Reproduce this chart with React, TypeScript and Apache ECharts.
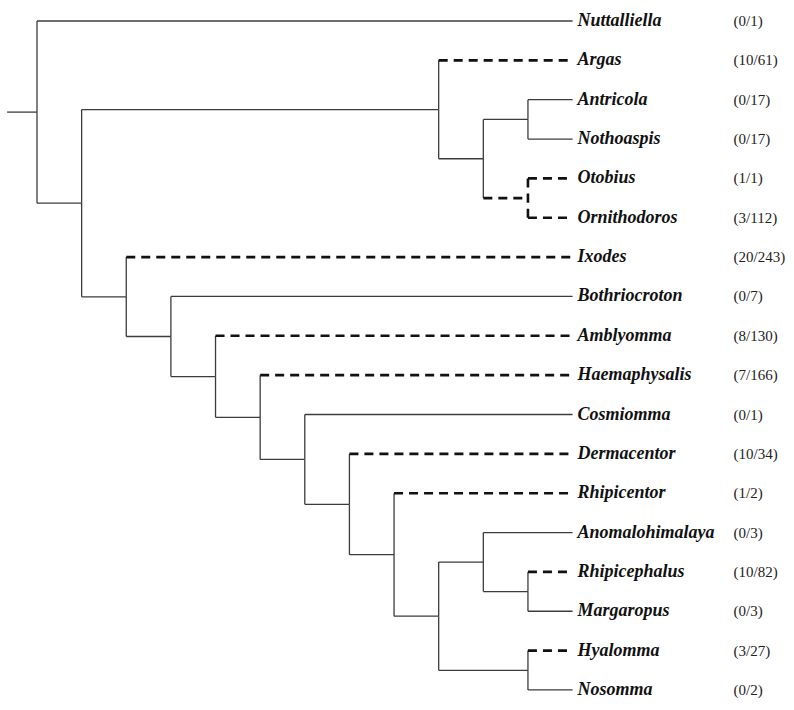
import React, { useEffect, useRef } from "react";
import * as echarts from "echarts";

// Leaves (top to bottom) and their counts (positive / total)
const LEAVES = [
  "Nuttalliella", "Argas", "Antricola", "Nothoaspis", "Otobius", "Ornithodoros",
  "Ixodes", "Bothriocroton", "Amblyomma", "Haemaphysalis", "Cosmiomma", "Dermacentor",
  "Rhipicentor", "Anomalohimalaya", "Rhipicephalus", "Margaropus", "Hyalomma", "Nosomma",
];
const POSITIVE = [0, 10, 0, 0, 1, 3, 20, 0, 8, 7, 0, 10, 1, 0, 10, 0, 3, 0];
const TOTAL = [1, 61, 17, 17, 1, 112, 243, 7, 130, 166, 1, 34, 2, 3, 82, 3, 27, 2];

// Tree topology: [node id, depth, children]
const LEAF_DEPTH = 12;
const ROOT_STUB = -0.67;
const NODES: [string, number, string[]][] = [
  ["root", 0, ["Nuttalliella", "n1"]],
  ["n1", 1, ["argasidae", "ixodidae"]],
  ["argasidae", 9, ["Argas", "a2"]],
  ["a2", 10, ["a3", "a4"]],
  ["a3", 11, ["Antricola", "Nothoaspis"]],
  ["a4", 11, ["Otobius", "Ornithodoros"]],
  ["ixodidae", 2, ["Ixodes", "i3"]],
  ["i3", 3, ["Bothriocroton", "i4"]],
  ["i4", 4, ["Amblyomma", "i5"]],
  ["i5", 5, ["Haemaphysalis", "i6"]],
  ["i6", 6, ["Cosmiomma", "i7"]],
  ["i7", 7, ["Dermacentor", "i8"]],
  ["i8", 8, ["Rhipicentor", "i9"]],
  ["i9", 9, ["i10", "i12"]],
  ["i10", 10, ["Anomalohimalaya", "i11"]],
  ["i11", 11, ["Rhipicephalus", "Margaropus"]],
  ["i12", 11, ["Hyalomma", "Nosomma"]],
];
// Branches (by child id) drawn dashed
const DASHED = [
  "Argas", "a4", "Otobius", "Ornithodoros", "Ixodes", "Amblyomma",
  "Haemaphysalis", "Dermacentor", "Rhipicentor", "Rhipicephalus", "Hyalomma",
];

// Layout constants (pixels)
const NAME_GAP = 5;
const COUNT_GAP = 161;

function buildEdges() {
  const nodeMap: Record<string, { depth: number; children: string[] }> = {};
  NODES.forEach(([id, depth, children]) => (nodeMap[id] = { depth, children }));
  const yOf: Record<string, number> = {};
  const depthOf = (id: string) => (nodeMap[id] ? nodeMap[id].depth : LEAF_DEPTH);
  const getY = (id: string): number => {
    if (yOf[id] !== undefined) return yOf[id];
    let y: number;
    if (nodeMap[id]) {
      const ys = nodeMap[id].children.map(getY);
      y = ys.reduce((a, b) => a + b, 0) / ys.length;
    } else {
      y = LEAVES.indexOf(id);
    }
    yOf[id] = y;
    return y;
  };
  const parentOf: Record<string, string> = {};
  NODES.forEach(([id, , ch]) => ch.forEach((c) => (parentOf[c] = id)));
  const edges: number[][] = [];
  const rootY = getY("root");
  edges.push([ROOT_STUB, rootY, 0, rootY, 0, 0]);
  NODES.forEach(([id, depth, children]) => {
    const py = getY(id);
    const parentDashed = DASHED.includes(id) ? 1 : 0;
    children.forEach((c) => {
      edges.push([depth, py, depthOf(c), getY(c), DASHED.includes(c) ? 1 : 0, parentDashed]);
    });
  });
  return edges;
}

const SOLID_STYLE = { stroke: "#3c3c3c", lineWidth: 1.3 };
const DASH_STYLE = { stroke: "#111", lineWidth: 2.6, lineDash: [9, 6] };

export default function App() {
  const ref = useRef<HTMLDivElement>(null);
  useEffect(() => {
    if (!ref.current) return;
    const chart = echarts.init(ref.current, null, { renderer: "svg" });
    const edges = buildEdges();
    const labels = LEAVES.map((_, i) => [LEAF_DEPTH, i]);
    chart.setOption({
      animation: false,
      grid: { left: 0, right: 0, top: 0, bottom: 0 },
      xAxis: { type: "value", min: -0.829, max: 16.961, show: false },
      yAxis: { type: "value", inverse: true, min: -0.534, max: 17.509, show: false },
      series: [
        {
          type: "custom",
          data: edges,
          silent: true,
          renderItem: (params: any, api: any) => {
            const px = api.value(0), py = api.value(1), cx = api.value(2), cy = api.value(3);
            const dashed = api.value(4) === 1;
            const vDashed = api.value(5) === 1 && dashed;
            const a = api.coord([px, py]);
            const b = api.coord([px, cy]);
            const c = api.coord([cx, cy]);
            const children: any[] = [];
            if (Math.abs(py - cy) > 1e-6) {
              children.push({
                type: "line",
                shape: { x1: b[0], y1: b[1], x2: a[0], y2: a[1] },
                style: vDashed ? DASH_STYLE : SOLID_STYLE,
              });
            }
            children.push({
              type: "line",
              shape: { x1: b[0], y1: b[1], x2: c[0], y2: c[1] },
              style: dashed ? DASH_STYLE : SOLID_STYLE,
            });
            return { type: "group", children };
          },
        },
        {
          type: "custom",
          data: labels,
          silent: true,
          renderItem: (params: any, api: any) => {
            const i = params.dataIndex;
            const p = api.coord([api.value(0), api.value(1)]);
            return {
              type: "group",
              children: [
                {
                  type: "text",
                  x: p[0] + NAME_GAP,
                  y: p[1] - 1,
                  style: {
                    text: LEAVES[i],
                    fontFamily: "Liberation Serif",
                    fontStyle: "italic",
                    fontWeight: "bold",
                    fontSize: 18,
                    fill: "#111",
                    align: "left",
                    verticalAlign: "middle",
                  },
                },
                {
                  type: "text",
                  x: p[0] + COUNT_GAP,
                  y: p[1],
                  style: {
                    text: `(${POSITIVE[i]}/${TOTAL[i]})`,
                    fontFamily: "Liberation Serif",
                    fontSize: 15,
                    fill: "#222",
                    align: "left",
                    verticalAlign: "middle",
                  },
                },
              ],
            };
          },
        },
      ],
    });
    return () => chart.dispose();
  }, []);
  return (
    <div
      ref={ref}
      style={{ position: "absolute", left: 0, top: 0, width: 794, height: 710, background: "#fff" }}
    />
  );
}
